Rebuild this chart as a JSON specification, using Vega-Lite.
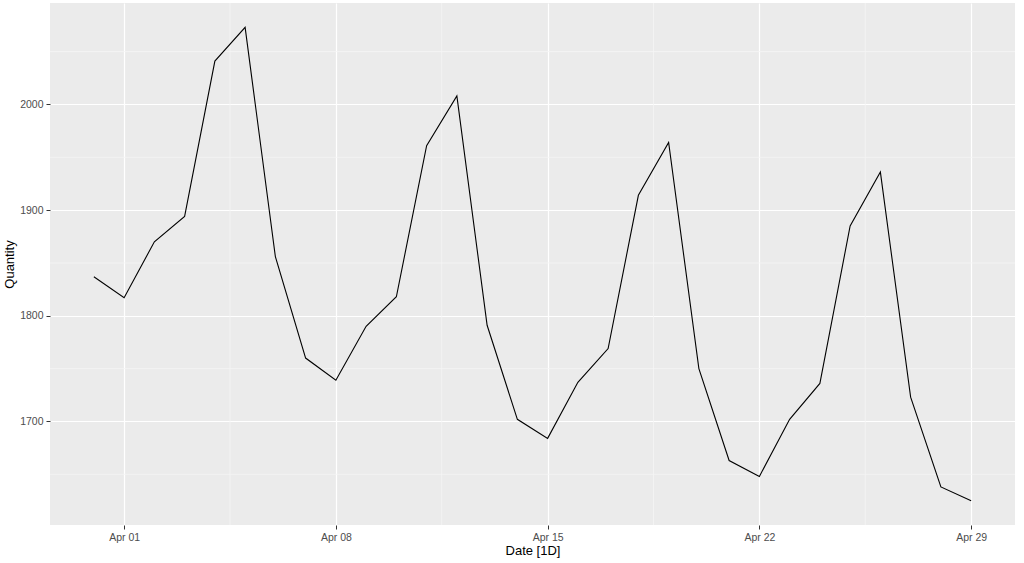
{
  "$schema": "https://vega.github.io/schema/vega-lite/v6.json",
  "width": 965,
  "height": 522,
  "autosize": {"type": "none"},
  "padding": {"left": 50, "top": 3, "right": 9, "bottom": 38},
  "background": "white",
  "config": {
    "view": {"fill": "#EBEBEB", "stroke": null},
    "font": "Liberation Sans",
    "axis": {
      "domain": false,
      "grid": true,
      "gridColor": "#FFFFFF",
      "gridWidth": 1.2,
      "tickColor": "#333333",
      "tickSize": 4,
      "tickWidth": 1,
      "labelColor": "#4D4D4D",
      "labelFontSize": 10.5,
      "labelFont": "Liberation Sans",
      "titleFont": "Liberation Sans",
      "titleFontSize": 13,
      "titleFontWeight": "normal",
      "titleColor": "#000000"
    }
  },
  "datasets": {
    "series": [
      {"Date": "2019-03-31", "Quantity": 1837},
      {"Date": "2019-04-01", "Quantity": 1817},
      {"Date": "2019-04-02", "Quantity": 1870},
      {"Date": "2019-04-03", "Quantity": 1894},
      {"Date": "2019-04-04", "Quantity": 2041},
      {"Date": "2019-04-05", "Quantity": 2073},
      {"Date": "2019-04-06", "Quantity": 1856},
      {"Date": "2019-04-07", "Quantity": 1760},
      {"Date": "2019-04-08", "Quantity": 1739},
      {"Date": "2019-04-09", "Quantity": 1790},
      {"Date": "2019-04-10", "Quantity": 1818},
      {"Date": "2019-04-11", "Quantity": 1961},
      {"Date": "2019-04-12", "Quantity": 2008},
      {"Date": "2019-04-13", "Quantity": 1791},
      {"Date": "2019-04-14", "Quantity": 1702},
      {"Date": "2019-04-15", "Quantity": 1684},
      {"Date": "2019-04-16", "Quantity": 1737},
      {"Date": "2019-04-17", "Quantity": 1769},
      {"Date": "2019-04-18", "Quantity": 1914},
      {"Date": "2019-04-19", "Quantity": 1964},
      {"Date": "2019-04-20", "Quantity": 1750},
      {"Date": "2019-04-21", "Quantity": 1663},
      {"Date": "2019-04-22", "Quantity": 1648},
      {"Date": "2019-04-23", "Quantity": 1702},
      {"Date": "2019-04-24", "Quantity": 1736},
      {"Date": "2019-04-25", "Quantity": 1885},
      {"Date": "2019-04-26", "Quantity": 1936},
      {"Date": "2019-04-27", "Quantity": 1723},
      {"Date": "2019-04-28", "Quantity": 1638},
      {"Date": "2019-04-29", "Quantity": 1625}
    ],
    "minorY": [
      {"Quantity": 1650}, {"Quantity": 1750}, {"Quantity": 1850}, {"Quantity": 1950}, {"Quantity": 2050}
    ],
    "minorX": [
      {"Date": "2019-04-04T12:00:00Z"},
      {"Date": "2019-04-11T12:00:00Z"},
      {"Date": "2019-04-18T12:00:00Z"},
      {"Date": "2019-04-25T12:00:00Z"}
    ]
  },
  "layer": [
    {
      "data": {"name": "minorY"},
      "mark": {"type": "rule", "color": "#F5F5F5", "strokeWidth": 0.8},
      "encoding": {
        "y": {
          "field": "Quantity",
          "type": "quantitative",
          "title": "Quantity",
          "scale": {"domain": [1602, 2096], "nice": false, "zero": false},
          "axis": {
            "values": [1700, 1800, 1900, 2000],
            "format": "d",
            "labelPadding": 3,
            "titlePadding": 3,
            "labelFlush": false,
            "labelOverlap": false
          }
        }
      }
    },
    {
      "data": {"name": "minorX"},
      "mark": {"type": "rule", "color": "#F5F5F5", "strokeWidth": 0.8},
      "encoding": {
        "x": {
          "field": "Date",
          "type": "temporal",
          "title": "Date [1D]",
          "scale": {
            "type": "utc",
            "domain": [
              {"year": 2019, "month": 3, "date": 29, "hours": 13, "minutes": 12, "utc": true},
              {"year": 2019, "month": 4, "date": 30, "hours": 10, "minutes": 48, "utc": true}
            ],
            "nice": false
          },
          "axis": {
            "values": [
              {"year": 2019, "month": 4, "date": 1, "utc": true},
              {"year": 2019, "month": 4, "date": 8, "utc": true},
              {"year": 2019, "month": 4, "date": 15, "utc": true},
              {"year": 2019, "month": 4, "date": 22, "utc": true},
              {"year": 2019, "month": 4, "date": 29, "utc": true}
            ],
            "labelExpr": "utcFormat(datum.value, '%b %d')",
            "labelPadding": 3,
            "titlePadding": 2,
            "labelFlush": false,
            "labelOverlap": false
          }
        }
      }
    },
    {
      "data": {"name": "series"},
      "mark": {"type": "line", "color": "#000000", "strokeWidth": 1.1, "clip": true},
      "encoding": {
        "x": {
          "field": "Date",
          "type": "temporal",
          "title": "Date [1D]",
          "scale": {
            "type": "utc",
            "domain": [
              {"year": 2019, "month": 3, "date": 29, "hours": 13, "minutes": 12, "utc": true},
              {"year": 2019, "month": 4, "date": 30, "hours": 10, "minutes": 48, "utc": true}
            ],
            "nice": false
          },
          "axis": {
            "values": [
              {"year": 2019, "month": 4, "date": 1, "utc": true},
              {"year": 2019, "month": 4, "date": 8, "utc": true},
              {"year": 2019, "month": 4, "date": 15, "utc": true},
              {"year": 2019, "month": 4, "date": 22, "utc": true},
              {"year": 2019, "month": 4, "date": 29, "utc": true}
            ],
            "labelExpr": "utcFormat(datum.value, '%b %d')",
            "labelPadding": 3,
            "titlePadding": 2,
            "labelFlush": false,
            "labelOverlap": false
          }
        },
        "y": {
          "field": "Quantity",
          "type": "quantitative",
          "title": "Quantity",
          "scale": {"domain": [1602, 2096], "nice": false, "zero": false},
          "axis": {
            "values": [1700, 1800, 1900, 2000],
            "format": "d",
            "labelPadding": 3,
            "titlePadding": 3,
            "labelFlush": false,
            "labelOverlap": false
          }
        }
      }
    }
  ]
}
